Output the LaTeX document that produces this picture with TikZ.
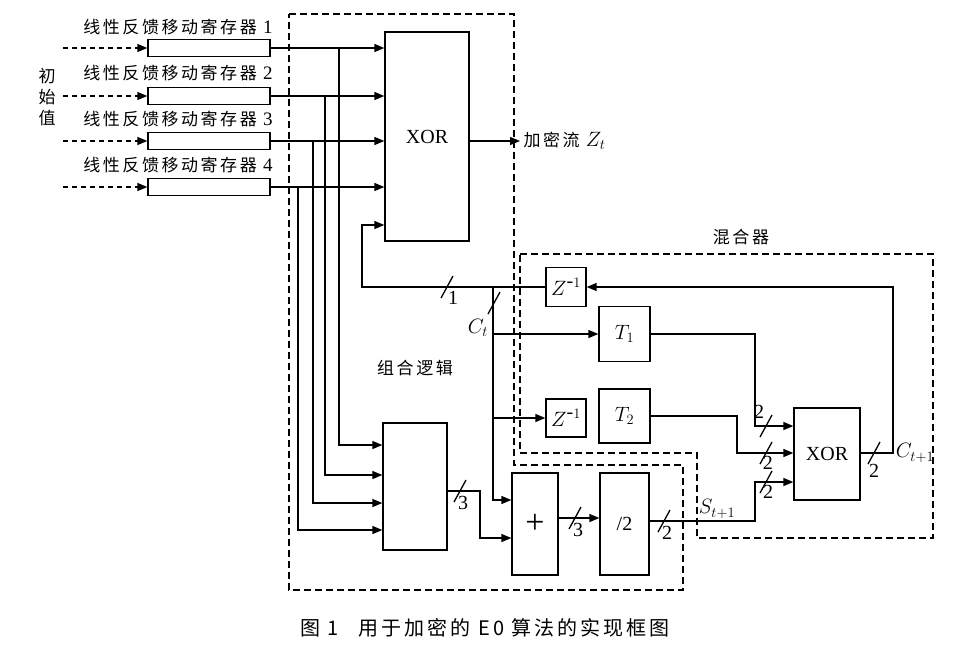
\documentclass[tikz,border=0pt]{standalone}
\usepackage{fontspec}
\setmainfont{Liberation Serif}
\newfontfamily\cjk{Noto Sans CJK SC}[LetterSpace=15]
\usetikzlibrary{positioning,calc,arrows.meta}

\newcommand\busmark[3]{%
    \draw[wire] ($#1+(-6,11)$) -- ($#1+(6,-11)$);
    \node[num,#3] at #1 {#2};}

\begin{document}
\begin{tikzpicture}[x=1pt,y=-1pt,
        block/.style={
            % The shape
            rectangle,
            % The border
            draw = black,
            line width = 1.3pt,
            inner sep = 0pt,
            % Font
            font = \fontsize{20}{20}\selectfont
        },
        wire/.style={
            line width = 1.3pt
        },
        arrow/.style={
            wire,
            -{Triangle[length=10pt,width=8pt]}
        },
        inarrow/.style={
            line width = 1.3pt,
            dash pattern = on 5pt off 4pt,
            -{Triangle[length=10pt,width=8pt]}
        },
        region/.style={
            line width = 1.4pt,
            dash pattern = on 7pt off 4pt
        },
        label/.style={
            font = \cjk\fontsize{17}{17}\selectfont
        },
        num/.style={
            inner sep = 1pt,
            font = \fontsize{20}{20}\selectfont
        },
    ]
        \useasboundingbox (0,0) rectangle (979,646);

        % dashed regions
        \draw[region] (289,14) -- (514,14) -- (514,465) -- (683,465) -- (683,590) -- (289,590) -- cycle;
        \draw[region] (520,254) -- (933,254) -- (933,538) -- (697,538) -- (697,453) -- (520,453) -- cycle;
        \node (mixLabel) [label] at (741,237) {混合器};
        \node (combLabel) [label] at (415,368) {组合逻辑};

        % shift registers
        \node (lfsr1) [block,minimum width=122pt,minimum height=17pt] at (209,48) {};
        \node (lfsr2) [block,minimum width=122pt,minimum height=17pt] at (209,96) {};
        \node (lfsr3) [block,minimum width=122pt,minimum height=17pt] at (209,141) {};
        \node (lfsr4) [block,minimum width=122pt,minimum height=17pt] at (209,187) {};
        \foreach \i/\y in {1/27,2/73,3/119,4/165} {
            \node (name\i) [label] at (178,\y) {线性反馈移动寄存器 \fontsize{19}{19}\selectfont\rmfamily\i};
            \coordinate (start\i) at (63,0);
            \draw[inarrow] (lfsr\i.west -| start\i) -- (lfsr\i.west);
        }
        \node (init) [label,align=center,font=\cjk\fontsize{17}{21}\selectfont] at (47,97) {初\\始\\值};

        % output XOR
        \node (xor) [block,minimum width=84pt,minimum height=209pt] at (427,136.5) {XOR};
        \foreach \i in {1,...,4} {
            \draw[arrow] (lfsr\i.east) -- (lfsr\i.east -| xor.west);
        }
        \coordinate (out) at (520,141);
        \draw[arrow] (xor.east |- out) -- (out);
        \node (stream) [label,right=0pt of out] {加密流 \fontsize{21}{21}\selectfont\rmfamily$Z_t$};

        % combination logic
        \node (comb) [block,minimum width=64pt,minimum height=127pt] at (415,486.5) {};
        \coordinate (v1) at (339,0); \coordinate (h1) at (0,445);
        \coordinate (v2) at (325,0); \coordinate (h2) at (0,475);
        \coordinate (v3) at (313,0); \coordinate (h3) at (0,503);
        \coordinate (v4) at (298,0); \coordinate (h4) at (0,530);
        \foreach \i in {1,...,4} {
            \draw[arrow] (lfsr\i.east -| v\i) |- (comb.west |- h\i);
        }

        % mixer
        \node (zA) [block,minimum width=40pt,minimum height=39pt] at (566,287) {$Z^{\mbox{-}1}$};
        \node (zB) [block,minimum width=40pt,minimum height=38pt] at (566,418) {$Z^{\mbox{-}1}$};
        \node (tA) [block,minimum width=51pt,minimum height=55pt] at (624.5,334) {$T_1$};
        \node (tB) [block,minimum width=51pt,minimum height=54pt] at (624.5,416) {$T_2$};
        \node (mix) [block,minimum width=66pt,minimum height=92pt] at (827,454) {XOR};
        \node (add) [block,minimum width=46pt,minimum height=102pt,font=\fontsize{34}{34}\selectfont] at (535,524) {+};
        \node (half) [block,minimum width=49pt,minimum height=102pt] at (624.5,524) {/2};

        % feedback and carry
        \coordinate (fb) at (362,225);
        \draw[arrow] (zA.west) -| (fb) -- (xor.west |- fb);
        \coordinate (ct) at (493,287);
        \coordinate (ctA) at (493,334);
        \coordinate (ctB) at (493,418);
        \coordinate (ctC) at (493,500);
        \draw[arrow] (ctA) -- (tA.west |- ctA);
        \draw[arrow] (ctB) -- (zB.west);
        \draw[arrow] (ct) -- (ctC) -- (add.west |- ctC);
        \node (ctLabel) [num] at (478,328) {$C_t$};
        \busmark{(447,287)}{1}{below right=3pt and 0pt}
        \busmark{(494,303)}{}{}

        % sum path
        \coordinate (sumA) at (480,491);
        \coordinate (sumB) at (0,538);
        \draw[arrow] (comb.east |- sumA) -- (sumA) |- (add.west |- sumB);
        \busmark{(460,491)}{3}{below right=4pt and -3pt}
        \coordinate (addOut) at (0,518);
        \draw[arrow] (add.east |- addOut) -- (half.west |- addOut);
        \busmark{(575,518)}{3}{below right=4pt and -3pt}

        % XOR inputs
        \coordinate (inA) at (755,426);
        \coordinate (inB) at (737,453);
        \coordinate (inC) at (755,482);
        \draw[arrow] (tA.east) -| (inA) -- (mix.west |- inA);
        \draw[arrow] (tB.east) -| (inB) -- (mix.west |- inB);
        \coordinate (sOut) at (0,521);
        \draw[arrow] (half.east |- sOut) -| (inC) -- (mix.west |- inC);
        \busmark{(664,521)}{2}{below right=4pt and -3pt}
        \node (sLabel) [num] at (717,509) {$S_{t+1}$};
        \busmark{(766,426)}{}{}
        \node (twoA) [num] at (759,412) {2};
        \busmark{(766,453)}{2}{below left=2pt and -8pt}
        \busmark{(766,482)}{2}{below right=2pt and -4pt}

        % carry out
        \coordinate (cOut) at (893,453);
        \draw[arrow] (mix.east |- cOut) -- (cOut) |- (zA.east);
        \busmark{(874,453)}{2}{below=10pt}
        \node (cLabel) [num] at (915,453) {$C_{t+1}$};

        % caption
        \node (caption) [label,font=\cjk\fontsize{20}{20}\selectfont] at (485,628) {图 1\quad 用于加密的 E0 算法的实现框图};
    \end{tikzpicture}
\end{document}
